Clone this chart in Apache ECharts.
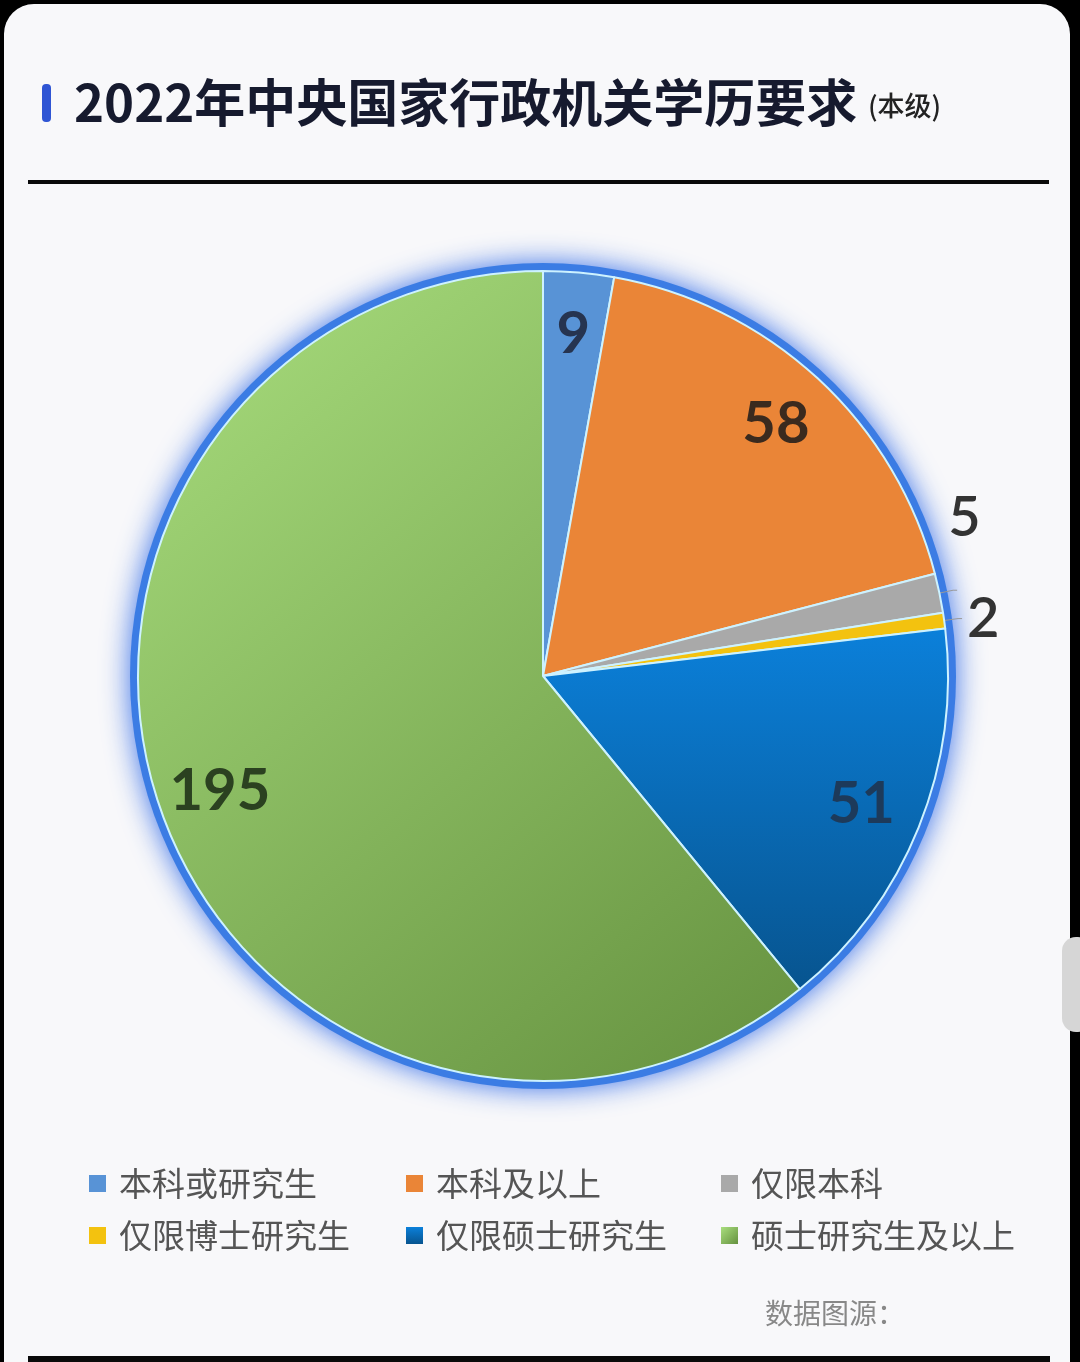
<!DOCTYPE html>
<html>
<head>
<meta charset="utf-8">
<script src="https://cdn.jsdelivr.net/npm/echarts@6/dist/echarts.min.js"></script>
<style>
  html, body { margin: 0; padding: 0; background: #000; }
  #main { width: 1080px; height: 1362px; }
</style>
</head>
<body>
<div id="main"></div>
<script>
// 数据
const categories = ['本科或研究生', '本科及以上', '仅限本科', '仅限博士研究生', '仅限硕士研究生', '硕士研究生及以上'];
const counts = [9, 58, 5, 2, 51, 195];
const labelColors = ['#263450', '#3a2a1e', '#333', '#333', '#1d3a5a', '#2b4120'];
const outsideIdx = [2, 3];

const titleText = '2022年中央国家行政机关学历要求';
const subTitleText = '(本级)';

const CJK = '"Noto Sans CJK SC", "Noto Sans", sans-serif';
const R = 405;
const C = [543, 676];
// 图例位置 (3列 x 2行)
const legendCols = [84, 401, 716];
const legendRows = [1162, 1214];

let chart = echarts.init(document.getElementById('main'));

function sliceColor(i) {
    const flat = ['#5893d6', '#ea8537', '#a9a9a9', '#f3c20f'];
    if (i < 4) return flat[i];
    if (i === 4) {
        return new echarts.graphic.LinearGradient(0, 0, 0, 1, [
            {offset: 0, color: '#0b80da'},
            {offset: 1, color: '#07548f'}
        ]);
    }
    return new echarts.graphic.LinearGradient(0, 0, 1, 1, [
        {offset: 0, color: '#a9de7e'},
        {offset: 1, color: '#65913f'}
    ]);
}

let mainData = categories.map((name, i) => ({
    name: name,
    value: counts[i],
    itemStyle: {color: sliceColor(i)},
    label: {show: outsideIdx.indexOf(i) >= 0},
    labelLine: {show: outsideIdx.indexOf(i) >= 0}
}));

let innerData = categories.map((name, i) => ({
    name: name,
    value: counts[i],
    label: {show: outsideIdx.indexOf(i) < 0, color: labelColors[i]}
}));

// 每个图例单独放, 对齐成表格
let legends = categories.map((name, i) => ({
    left: legendCols[i % 3],
    top: legendRows[Math.floor(i / 3)],
    data: [name],
    icon: 'rect',
    itemWidth: 17,
    itemHeight: 17,
    selectedMode: false,
    itemStyle: {borderWidth: 0},
    textStyle: {fontFamily: CJK, fontSize: 33, color: '#555', padding: [0, 0, 0, 8]}
}));

let option = {
    backgroundColor: '#000',
    animation: false,
    legend: legends,
    graphic: [
        // 卡片
        {type: 'rect', z: -10, shape: {x: 4, y: 4, width: 1066, height: 1420, r: 30}, style: {fill: '#f8f8fa'}},
        // 标题
        {type: 'rect', shape: {x: 42, y: 84, width: 9, height: 38, r: 4}, style: {fill: '#2f55d4'}},
        {type: 'text', x: 74, y: 103,
            style: {text: titleText, fontFamily: CJK, fontSize: 51, fontWeight: 'bold', fill: '#161a2e', verticalAlign: 'middle'}},
        {type: 'text', x: 868, y: 106,
            style: {text: subTitleText, fontFamily: CJK, fontSize: 27, fontWeight: 500, fill: '#222', verticalAlign: 'middle'}},
        {type: 'rect', shape: {x: 28, y: 180, width: 1021, height: 4}, style: {fill: '#0a0a0a'}},
        // 底部
        {type: 'text', x: 765, y: 1313,
            style: {text: '数据图源：', fontFamily: CJK, fontSize: 28, fill: '#888', verticalAlign: 'middle'}},
        {type: 'rect', shape: {x: 1062, y: 937, width: 30, height: 95, r: 14}, style: {fill: '#d6d6d6'}},
        {type: 'rect', shape: {x: 28, y: 1356, width: 1022, height: 6}, style: {fill: '#0a0a0a'}}
    ],
    series: [
        {
            // 外圈蓝色光晕
            type: 'pie',
            name: 'rim',
            silent: true,
            center: C,
            radius: R + 8,
            z: 1,
            label: {show: false},
            itemStyle: {color: '#3b7ce4', shadowBlur: 28, shadowColor: 'rgba(40,100,230,0.9)'},
            data: [{name: '', value: 1}]
        },
        {
            type: 'pie',
            name: 'main',
            center: C,
            radius: R,
            startAngle: 90,
            clockwise: true,
            z: 2,
            avoidLabelOverlap: false,
            itemStyle: {borderColor: '#cdf2ff', borderWidth: 2},
            label: {
                position: 'outside',
                formatter: '{c}',
                fontFamily: 'Lato, sans-serif',
                fontWeight: 600,
                fontSize: 56,
                color: '#333',
                alignTo: 'none'
            },
            labelLine: {length: 14, length2: 4, lineStyle: {color: '#999', width: 1}},
            labelLayout: function (p) {
                if (p.dataIndex === 2) return {dy: -72, dx: -14};
                return {};
            },
            data: mainData
        },
        {
            // 数值标签
            type: 'pie',
            name: 'labels',
            silent: true,
            center: C,
            radius: [R * 0.68, R],
            startAngle: 90,
            z: 3,
            itemStyle: {color: 'rgba(0,0,0,0)'},
            label: {
                position: 'inside',
                formatter: '{c}',
                fontFamily: 'Lato, sans-serif',
                fontWeight: 'bold',
                fontSize: 58
            },
            data: innerData
        }
    ]
};

chart.setOption(option);
</script>
</body>
</html>
